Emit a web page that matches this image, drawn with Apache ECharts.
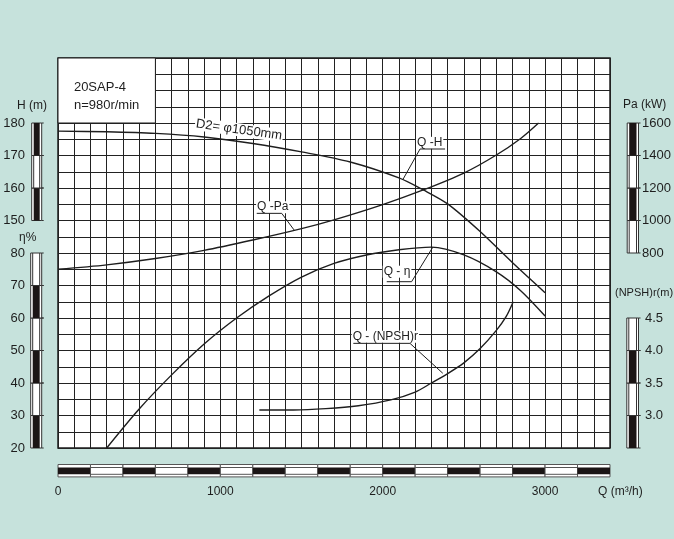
<!DOCTYPE html>
<html><head><meta charset="utf-8">
<script src="https://cdn.jsdelivr.net/npm/echarts@6/dist/echarts.min.js"></script>
<style>html,body{margin:0;padding:0;background:#c6e2dc;}#c{width:674px;height:539px;}</style>
</head><body><div id="c"></div>
<script>
// ---- tick labels ----
const qTicks = [0, 1000, 2000, 3000];
const hTicks = [150, 160, 170, 180];
const etaTicks = [20, 30, 40, 50, 60, 70, 80];
const paTicks = [800, 1000, 1200, 1400, 1600];
const npshTicks = [3.0, 3.5, 4.0, 4.5];

// ---- curves (Q in m3/h) ----
const qhQ = [0, 300, 600, 900, 1200, 1500, 1800, 2100, 2250, 2400, 2600, 2800, 3000];
const qhH = [177.5, 177.3, 176.8, 175.7, 173.7, 171.1, 168.0, 163.1, 159.4, 155.1, 146.6, 137.0, 127.8];

const paQ = [0, 300, 600, 900, 1200, 1500, 1700, 2000, 2250, 2500, 2700, 2850, 2960];
const paP = [700, 727, 766, 816, 880, 950, 1004, 1098, 1188, 1292, 1403, 1505, 1600];

const etaQ = [300, 500, 700, 900, 1100, 1300, 1500, 1700, 1900, 2100, 2300, 2500, 2700, 2850, 3000];
const etaV = [20, 32, 42.5, 52, 60, 66.8, 72.6, 76.8, 79.4, 81.0, 81.8, 79.4, 74.2, 68.4, 60.6];

const npQ = [1240, 1450, 1650, 1850, 2050, 2200, 2300, 2400, 2500, 2600, 2700, 2760, 2804];
const npV = [3.085, 3.085, 3.105, 3.15, 3.24, 3.36, 3.50, 3.645, 3.81, 4.03, 4.31, 4.52, 4.75];

// ---- scale bars: [from, to, filled] ----
const hBar = [[150, 160, 1], [160, 170, 0], [170, 180, 1]];
const etaBar = [[20, 30, 1], [30, 40, 0], [40, 50, 1], [50, 60, 0], [60, 70, 1], [70, 80, 0]];
const paBar = [[800, 1000, 0], [1000, 1200, 1], [1200, 1400, 0], [1400, 1600, 1]];
const npBar = [[2.5, 3.0, 1], [3.0, 3.5, 0], [3.5, 4.0, 1], [4.0, 4.5, 0]];
const qBar = [[0,200,1],[200,400,0],[400,600,1],[600,800,0],[800,1000,1],[1000,1200,0],[1200,1400,1],[1400,1600,0],[1600,1800,1],[1800,2000,0],[2000,2200,1],[2200,2400,0],[2400,2600,1],[2600,2800,0],[2800,3000,1],[3000,3200,0],[3200,3400,1]];

// ---- annotations (placed in Q / H-axis coordinates) ----
const annText = ['Q -H', 'Q -Pa', 'Q - η', 'Q - (NPSH)r', 'D2= φ1050mm', '20SAP-4', 'n=980r/min'];
const annAt = [[2205, 173.9], [1220, 154.1], [2000, 134.25], [1809, 114.25], [844, 179.8], [98, 191.0], [98, 185.5]];
const annLead = [
  [[2384, 172.0], [2230, 172.0], [2123, 162.5]],
  [[1224, 152.2], [1378, 152.2], [1454, 147.1]],
  [[2025, 131.17], [2178, 131.17], [2308, 141.75]],
  [[1819, 112.2], [2168, 112.2], [2370, 103.0]],
  null, null, null
];
const annRot = [0, 0, 0, 0, -0.14, 0, 0];
const annSize = [12, 12, 12, 12, 13, 13, 13];
const annBg = [1, 1, 1, 1, 1, 0, 0];

const FONT = "'Liberation Sans', Arial, sans-serif";
const INK = '#1e1e1e';

function makeSeries(xs, ys) { return xs.map((x, i) => [x, ys[i]]); }

function vBar(side, off, w) {
  return function (params, api) {
    const cs = params.coordSys;
    const x0 = side === 'left' ? cs.x - off : cs.x + cs.width + off;
    const yA = api.coord([0, api.value(0)])[1];
    const yB = api.coord([0, api.value(1)])[1];
    const top = Math.min(yA, yB), h = Math.abs(yA - yB);
    const inset = 2;
    const ch = [{ type: 'rect', shape: { x: x0, y: top, width: w, height: h }, style: { fill: '#fff', stroke: '#333', lineWidth: 1 } }];
    if (api.value(2)) {
      ch.push({ type: 'rect', shape: { x: x0 + inset, y: top, width: w - 2 * inset, height: h }, style: { fill: '#1b1515' } });
    } else {
      ch.push({ type: 'line', shape: { x1: x0 + inset, y1: top, x2: x0 + inset, y2: top + h }, style: { stroke: '#333', lineWidth: 1 } });
      ch.push({ type: 'line', shape: { x1: x0 + w - inset, y1: top, x2: x0 + w - inset, y2: top + h }, style: { stroke: '#333', lineWidth: 1 } });
    }
    ch.push({ type: 'line', shape: { x1: x0 + w, y1: top, x2: x0 + w + 2, y2: top }, style: { stroke: '#333', lineWidth: 1 } });
    ch.push({ type: 'line', shape: { x1: x0 + w, y1: top + h, x2: x0 + w + 2, y2: top + h }, style: { stroke: '#333', lineWidth: 1 } });
    return { type: 'group', children: ch };
  };
}

function hBarRender(params, api) {
  const cs = params.coordSys;
  const y0 = cs.y + cs.height + 16.5, h = 12.4;
  const xA = api.coord([api.value(0), 100])[0];
  const xB = api.coord([api.value(1), 100])[0];
  const ch = [{ type: 'rect', shape: { x: xA, y: y0, width: xB - xA, height: h }, style: { fill: '#fff', stroke: '#555', lineWidth: 1 } }];
  if (api.value(2)) {
    ch.push({ type: 'rect', shape: { x: xA, y: y0 + 3, width: xB - xA, height: 6.8 }, style: { fill: '#1b1515' } });
  } else {
    ch.push({ type: 'line', shape: { x1: xA, y1: y0 + 3, x2: xB, y2: y0 + 3 }, style: { stroke: '#555', lineWidth: 1 } });
    ch.push({ type: 'line', shape: { x1: xA, y1: y0 + 9.8, x2: xB, y2: y0 + 9.8 }, style: { stroke: '#555', lineWidth: 1 } });
  }
  return { type: 'group', children: ch };
}

function annRender(params, api) {
  const i = params.dataIndex;
  const p = api.coord(annAt[i]);
  const ch = [];
  ch.push({
    type: 'text', x: p[0], y: p[1], rotation: annRot[i],
    style: {
      text: annText[i], fill: INK, font: annSize[i] + 'px ' + FONT,
      align: 'left', verticalAlign: 'middle',
      backgroundColor: annBg[i] ? '#fff' : null, padding: annBg[i] ? [0, 1] : 0
    }
  });
  if (annLead[i]) {
    ch.push({ type: 'polyline', shape: { points: annLead[i].map(d => api.coord(d)) }, style: { stroke: INK, lineWidth: 1, fill: 'none' } });
  }
  return { type: 'group', children: ch };
}

const axisLabelBase = { color: INK, fontFamily: FONT, fontSize: 13, padding: [5, 0, 0, 0] };
const curveBase = { smooth: 0.3, showSymbol: false, lineStyle: { color: INK, width: 1.4 }, z: 3 };

const chart = echarts.init(document.getElementById('c'), null, { renderer: 'canvas' });
chart.setOption({
  animation: false,
  backgroundColor: '#c6e2dc',
  grid: { left: 58, top: 58, width: 552, height: 390, show: true, backgroundColor: '#fff', borderColor: INK, borderWidth: 1.5 },
  xAxis: {
    type: 'value', min: 0, max: 3400, interval: 100,
    axisLine: { show: false }, axisTick: { show: false },
    splitLine: { show: true, lineStyle: { color: '#222', width: 1 } },
    axisLabel: { color: INK, fontFamily: FONT, fontSize: 12, margin: 38, formatter: v => qTicks.includes(v) ? String(v) : '' }
  },
  yAxis: [
    { type: 'value', min: 80, max: 200, interval: 5, position: 'left',
      axisLine: { show: false }, axisTick: { show: false },
      splitLine: { show: true, lineStyle: { color: '#222', width: 1 } },
      axisLabel: Object.assign({}, axisLabelBase, { margin: 33, formatter: v => hTicks.includes(v) ? String(v) : '' }) },
    { type: 'value', min: 20, max: 140, interval: 10, position: 'left',
      axisLine: { show: false }, axisTick: { show: false }, splitLine: { show: false },
      axisLabel: Object.assign({}, axisLabelBase, { margin: 33, formatter: v => etaTicks.includes(v) ? String(v) : '' }) },
    { type: 'value', min: -400, max: 2000, interval: 200, position: 'right',
      axisLine: { show: false }, axisTick: { show: false }, splitLine: { show: false },
      axisLabel: Object.assign({}, axisLabelBase, { margin: 32, formatter: v => paTicks.includes(v) ? String(v) : '' }) },
    { type: 'value', min: 2.5, max: 8.5, interval: 0.5, position: 'right',
      axisLine: { show: false }, axisTick: { show: false }, splitLine: { show: false },
      axisLabel: Object.assign({}, axisLabelBase, { margin: 35, formatter: v => npshTicks.includes(v) ? v.toFixed(1) : '' }) }
  ],
  series: [
    { type: 'custom', name: 'hbar', xAxisIndex: 0, yAxisIndex: 0, renderItem: vBar('left', 26.3, 10), data: hBar, silent: true, z: 2 },
    { type: 'custom', name: 'etabar', xAxisIndex: 0, yAxisIndex: 1, renderItem: vBar('left', 27.3, 11), data: etaBar, silent: true, z: 2 },
    { type: 'custom', name: 'pabar', xAxisIndex: 0, yAxisIndex: 2, renderItem: vBar('right', 17.2, 11.3), data: paBar, silent: true, z: 2 },
    { type: 'custom', name: 'npbar', xAxisIndex: 0, yAxisIndex: 3, renderItem: vBar('right', 16.8, 11.7), data: npBar, silent: true, z: 2 },
    { type: 'custom', name: 'qbar', xAxisIndex: 0, yAxisIndex: 0, renderItem: hBarRender, data: qBar, silent: true, z: 2 },
    Object.assign({ type: 'line', name: 'Q-H', yAxisIndex: 0, data: makeSeries(qhQ, qhH),
      markArea: { silent: true, itemStyle: { color: '#fff', borderColor: INK, borderWidth: 1, opacity: 1 },
        data: [[{ coord: [0, 180] }, { coord: [600, 200] }]] } }, curveBase),
    Object.assign({ type: 'line', name: 'Q-Pa', yAxisIndex: 2, data: makeSeries(paQ, paP) }, curveBase),
    Object.assign({ type: 'line', name: 'Q-eta', yAxisIndex: 1, data: makeSeries(etaQ, etaV) }, curveBase),
    Object.assign({ type: 'line', name: 'Q-NPSH', yAxisIndex: 3, data: makeSeries(npQ, npV) }, curveBase),
    { type: 'custom', name: 'ann', xAxisIndex: 0, yAxisIndex: 0, renderItem: annRender, data: annAt, silent: true, z: 4 }
  ],
  graphic: [
    { type: 'text', left: 17, top: 100, style: { text: 'H (m)', fill: INK, font: '12px ' + FONT } },
    { type: 'text', left: 19, top: 232, style: { text: 'η%', fill: INK, font: '12px ' + FONT } },
    { type: 'text', left: 623, top: 99, style: { text: 'Pa (kW)', fill: INK, font: '12px ' + FONT } },
    { type: 'text', left: 615, top: 287, style: { text: '(NPSH)r(m)', fill: INK, font: '11px ' + FONT } },
    { type: 'text', left: 598, top: 486, style: { text: 'Q (m³/h)', fill: INK, font: '12px ' + FONT } }
  ]
});
</script>
</body></html>
